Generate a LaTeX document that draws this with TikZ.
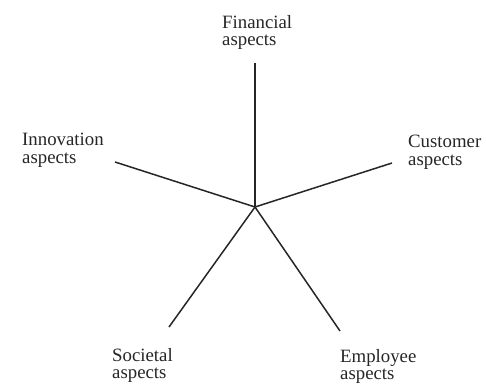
\documentclass[tikz,border=0pt]{standalone}
\usepackage{fontspec}
\setmainfont{Liberation Serif}

\begin{document}
\begin{tikzpicture}[
                x=1pt, y=-1pt,
                aspect/.style={anchor=north west, align=left, inner sep=0pt,
                    font=\fontsize{18.8}{17.5}\selectfont, text=black!85},
                spoke/.style={draw=black!85, line width=1.5pt}
            ]
                \useasboundingbox (0,0) rectangle (486,385);

                % Hub and spoke ends
                \coordinate (hub) at (255,207);
                \coordinate (fin) at (255,63);
                \coordinate (cus) at (392,163);
                \coordinate (inn) at (115,162);
                \coordinate (soc) at (169,327);
                \coordinate (emp) at (340,331);

                % Spokes
                \path[spoke]
                    (hub) edge (fin)
                    (hub) edge (cus)
                    (hub) edge (inn)
                    (hub) edge (soc)
                    (hub) edge (emp);

                % Aspect labels
                \node[aspect] (finL) at (222,15) {Financial\\aspects};
                \node[aspect] (innL) at (22,133) {Innovation\\aspects};
                \node[aspect] (cusL) at (408,135) {Customer\\aspects};
                \node[aspect] (socL) at (112,348) {Societal\\aspects};
                \node[aspect] (empL) at (340,349) {Employee\\aspects};
            \end{tikzpicture}
\end{document}
